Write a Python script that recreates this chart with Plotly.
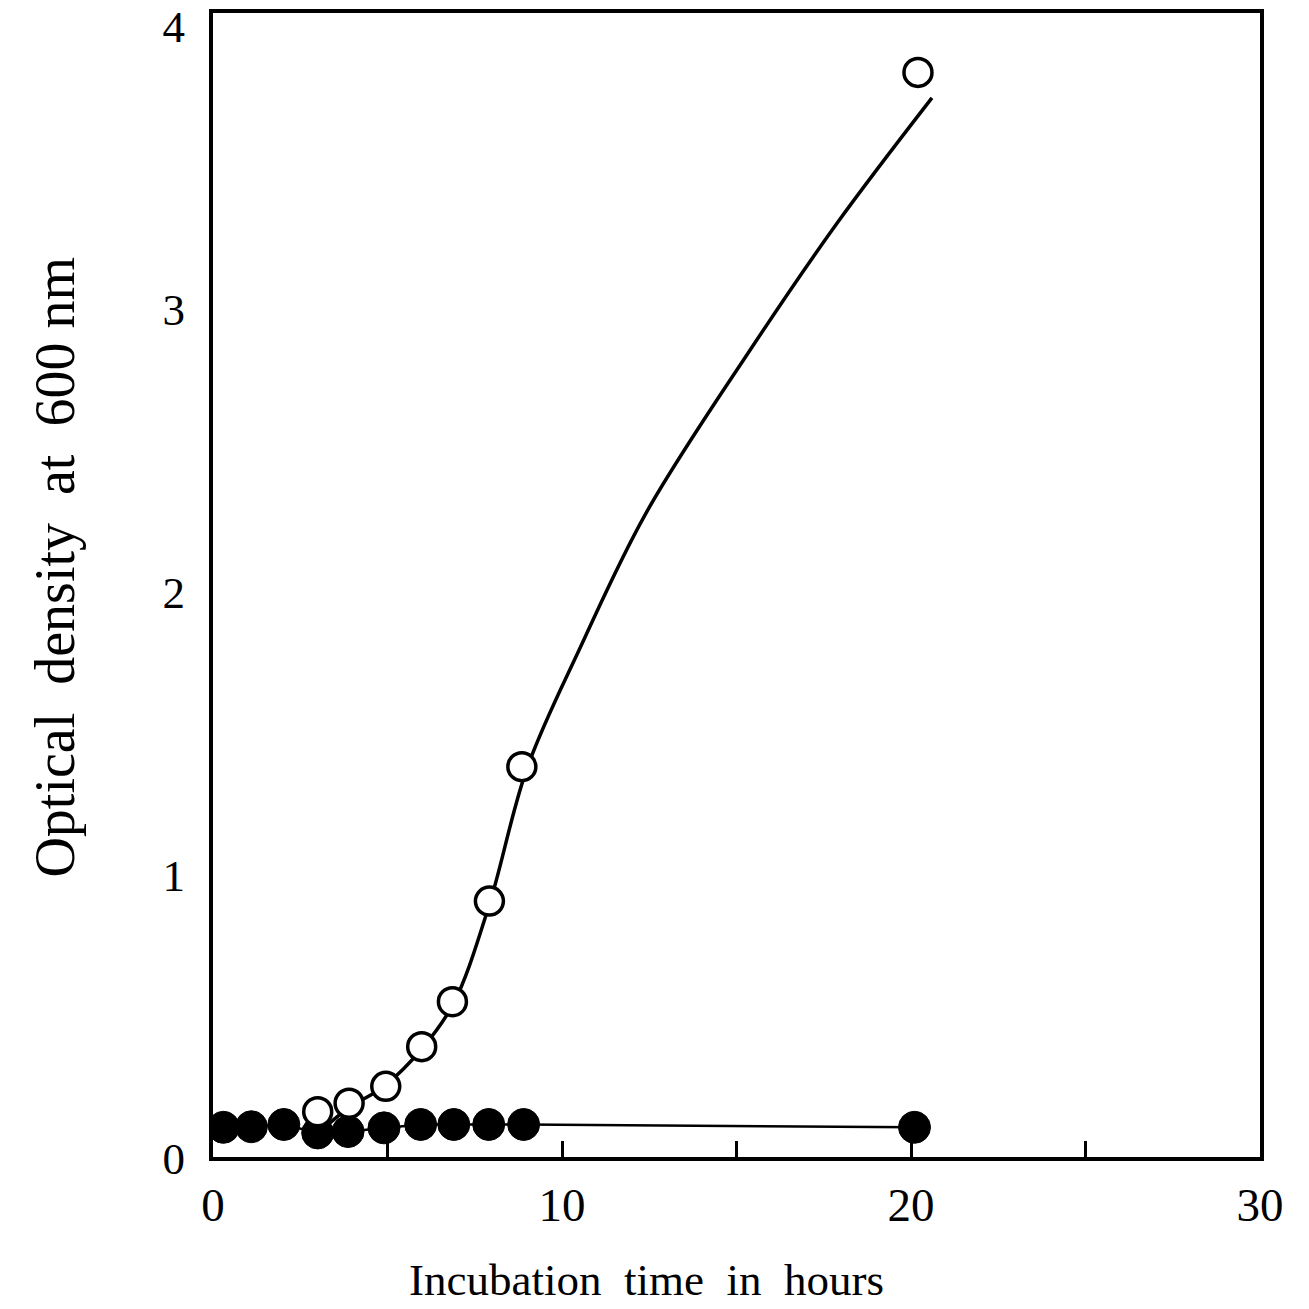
import plotly.graph_objects as go

# Open circles (growth)
open_x = [3.0, 3.9, 4.95, 5.98, 6.86, 7.92, 8.85, 20.2]
open_y = [0.145, 0.175, 0.235, 0.375, 0.534, 0.89, 1.365, 3.82]

# Filled circles (no growth)
filled_x = [0.3, 1.1, 2.03, 3.0, 3.87, 4.9, 5.95, 6.9, 7.9, 8.9, 20.1]
filled_y = [0.09, 0.092, 0.1, 0.07, 0.075, 0.088, 0.1, 0.1, 0.1, 0.1, 0.09]

# Fitted curve drawn through the open circles
curve_x = [3.3, 3.9, 4.9, 6.0, 6.9, 7.9, 9.0, 10.5, 12.4, 15.4, 17.9, 20.6]
curve_y = [0.10, 0.16, 0.235, 0.37, 0.53, 0.87, 1.36, 1.78, 2.26, 2.84, 3.29, 3.73]

x_tickvals = [0, 5, 10, 15, 20, 25, 30]
x_ticktext = ["0", "", "10", "", "20", "", "30"]
y_tickvals = [0, 1, 2, 3, 4]
y_ticktext = ["0", "1", "2", "3", "4"]

FONT = "Liberation Serif"

fig = go.Figure()
fig.add_trace(go.Scatter(x=curve_x, y=curve_y, mode="lines",
                         line=dict(color="black", width=3.5, shape="spline", smoothing=1.0),
                         showlegend=False, hoverinfo="skip"))
fig.add_trace(go.Scatter(x=filled_x, y=filled_y, mode="lines+markers",
                         line=dict(color="black", width=2.5),
                         marker=dict(symbol="circle", size=32, color="black",
                                     line=dict(color="black", width=1)),
                         showlegend=False))
fig.add_trace(go.Scatter(x=open_x, y=open_y, mode="markers",
                         marker=dict(symbol="circle", size=28, color="white",
                                     line=dict(color="black", width=3.5)),
                         showlegend=False))

fig.update_layout(
    width=1309, height=1309,
    paper_bgcolor="white", plot_bgcolor="white",
    margin=dict(l=213, r=49, t=13, b=152, autoexpand=False),
    font=dict(family=FONT, color="black"),
    xaxis=dict(range=[0, 30], tickvals=x_tickvals, ticktext=x_ticktext,
               ticks="inside", ticklen=16, tickwidth=3, tickcolor="black",
               showline=True, linecolor="black", linewidth=4, mirror=True,
               showgrid=False, zeroline=False, automargin=False,
               ticklabeloverflow="allow",
               tickfont=dict(family=FONT, size=47), ticklabelstandoff=4),
    yaxis=dict(range=[-0.015, 4.03], tickvals=y_tickvals, ticktext=y_ticktext,
               ticks="", showline=True, linecolor="black", linewidth=4, mirror=True,
               showgrid=False, zeroline=False, automargin=False,
               ticklabeloverflow="allow", ticklabelshift=5,
               tickfont=dict(family=FONT, size=45), ticklabelstandoff=15),
    annotations=[
        dict(text="Incubation  time  in  hours", xref="paper", yref="paper",
             x=0.4145, y=0, yshift=-123, xanchor="center", yanchor="middle",
             showarrow=False, font=dict(family=FONT, size=45)),
        dict(text="Optical  density  at  600 nm", xref="paper", yref="paper",
             x=-0.151, y=0.516, xanchor="center", yanchor="middle", textangle=-90,
             showarrow=False, font=dict(family=FONT, size=56)),
    ],
)

fig.write_html("out.html", config={"displayModeBar": False},
               post_script="document.body.style.margin='0';document.body.style.overflow='hidden';")
